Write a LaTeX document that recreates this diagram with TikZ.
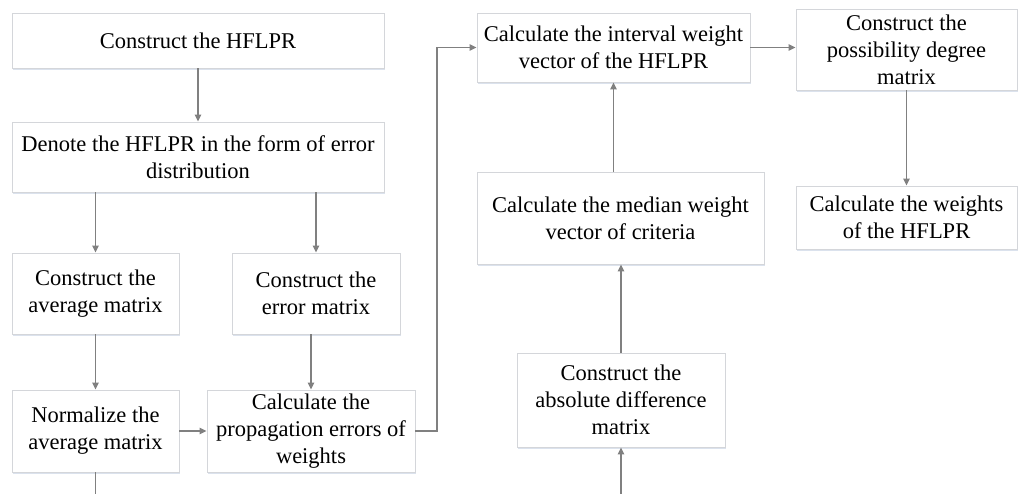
\documentclass[tikz,border=0pt]{standalone}
\usepackage{fontspec}
\setmainfont{Liberation Serif}
\usetikzlibrary{arrows.meta,shadows}
\definecolor{boxgray}{RGB}{212,214,218}
\definecolor{arrowgray}{RGB}{128,128,128}
\definecolor{shadowblue}{RGB}{205,215,230}
\tikzset{
  box/.style={draw=boxgray, line width=0.9pt, fill=white, align=center, inner sep=0pt,
    font=\fontsize{22.5}{27}\selectfont,
    drop shadow={shadow xshift=1pt, shadow yshift=-2.2pt, fill=shadowblue, opacity=0.7}},
  flow/.style={draw=arrowgray, line width=1.3pt, -{Triangle[length=7pt,width=6.5pt]}},
  plain/.style={draw=arrowgray, line width=1.3pt},
}
\begin{document}
\begin{tikzpicture}[x=1pt,y=-1pt]
\useasboundingbox (0,0) rectangle (1019,494);
\fill[white] (0,0) rectangle (1019,494);

\node[box, minimum width=372pt, minimum height=55pt] (n1) at (198,40.5) {Construct the HFLPR};
\node[box, minimum width=372pt, minimum height=70pt] (n2) at (198,157) {Denote the HFLPR in the form of error\\distribution};
\node[box, minimum width=167pt, minimum height=81pt] (n3) at (95.5,293.5) {Construct the\\average matrix};
\node[box, minimum width=168pt, minimum height=81pt] (n4) at (316,293.5) {Construct the\\error matrix};
\node[box, minimum width=167pt, minimum height=82pt] (n5) at (95.5,431) {Normalize the\\average matrix};
\node[box, minimum width=208pt, minimum height=82pt] (n6) at (311,431) {Calculate the\\propagation errors of\\weights};
\node[box, minimum width=273pt, minimum height=69pt] (n7) at (613.5,47.5) {Calculate the interval weight\\vector of the HFLPR};
\node[box, minimum width=221pt, minimum height=81pt] (n8) at (906.5,49.5) {Construct the\\possibility degree\\matrix};
\node[box, minimum width=221pt, minimum height=63pt] (n9) at (906.5,217.5) {Calculate the weights\\of the HFLPR};
\node[box, minimum width=287pt, minimum height=92pt] (n10) at (620.5,218) {Calculate the median weight\\vector of criteria};
\node[box, minimum width=208pt, minimum height=94pt] (n11) at (621,400) {Construct the\\absolute difference\\matrix};

\coordinate (elb) at (437,0);
\coordinate (b1) at (95.5,494);
\coordinate (b2) at (621,494);

\draw[flow] (n1.south) -- (n2.north);
\draw[flow] (n3.north |- n2.south) -- (n3.north);
\draw[flow] (n4.north |- n2.south) -- (n4.north);
\draw[flow] (n3.south) -- (n5.north);
\draw[flow] (n6.north |- n4.south) -- (n6.north);
\draw[flow] (n5.east) -- (n6.west);
\draw[flow] (n6.east) -- (n6.east -| elb) -- (elb |- n7.west) -- (n7.west);
\draw[flow] (n7.east) -- (n7.east -| n8.west);
\draw[flow] (n8.south) -- (n9.north);
\draw[flow] (n7.south |- n10.north) -- (n7.south);
\draw[flow] (n11.north) -- (n11.north |- n10.south);
\draw[plain] (n5.south) -- (b1);
\draw[flow] (b2) -- (n11.south);
\end{tikzpicture}
\end{document}
